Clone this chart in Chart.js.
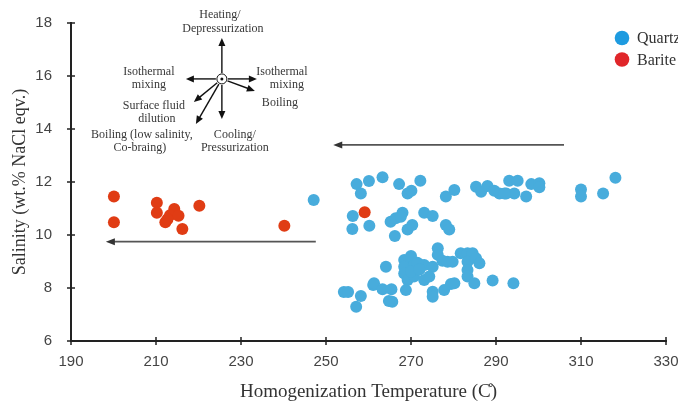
<!DOCTYPE html>
<html>
<head>
<meta charset="utf-8">
<script src="https://cdn.jsdelivr.net/npm/chart.js@4.4.0/dist/chart.umd.min.js"></script>
<style>
  html, body { margin: 0; padding: 0; background: #ffffff; }
  #wrap { width: 678px; height: 405px; position: relative; }
</style>
</head>
<body>
<div id="wrap"><canvas id="c" width="678" height="405"></canvas></div>
<script>
// ---- Data ----
const quartzT = [247.1,257.2,260.1,258.2,256.3,256.2,260.2,254.2,255.2,258.2,257.1,261.1,263.3,267.2,272.2,269.2,270.1,
  278.2,280.2,285.3,286.5,288.0,289.6,290.8,292.4,294.3,293.1,295.1,292.0,297.1,298.3,300.2,300.2,310.0,310.0,315.2,318.1,
  265.2,266.4,268.0,267.6,266.2,269.2,270.3,273.1,275.1,278.2,279.0,
  264.1,261.3,263.3,265.4,265.6,264.8,268.4,270.0,268.4,268.4,269.2,268.8,270.7,270.7,272.3,273.1,275.1,273.1,274.3,275.1,275.1,
  276.3,276.3,277.4,278.6,279.8,277.8,279.4,280.2,281.7,283.3,284.5,283.3,283.3,283.3,285.3,286.1,284.9,289.2,294.1,270.0,271.5,272.0];
const quartzS = [11.32,11.92,12.04,11.57,10.72,10.23,10.35,7.85,7.85,7.70,7.29,8.11,12.18,11.92,12.05,11.57,11.67,
  11.45,11.70,11.82,11.63,11.85,11.67,11.57,11.57,11.57,12.05,12.05,11.57,11.45,11.92,11.95,11.80,11.72,11.45,11.57,12.16,
  10.50,10.63,10.84,10.69,9.96,10.21,10.38,10.84,10.72,10.38,10.21,
  8.80,8.18,7.95,7.95,7.48,7.51,9.06,9.21,8.80,8.55,8.30,7.92,8.87,8.43,8.87,8.87,8.80,8.30,8.43,7.86,7.67,
  9.50,9.25,9.03,8.99,8.99,7.92,8.15,8.18,9.31,9.31,9.31,8.99,8.68,8.43,9.12,8.93,8.18,8.28,8.18,8.62,8.95,8.70];
const bariteT = [200.1,200.1,210.2,210.2,214.3,213.3,215.3,212.2,212.7,216.2,220.2,240.2,259.1];
const bariteS = [11.45,10.48,11.22,10.84,10.98,10.75,10.73,10.48,10.59,10.23,11.10,10.35,10.86];

const seriesNames = ["Quartz", "Barite"];
const xTicks = [190,210,230,250,270,290,310,330];
const yTicks = [6,8,10,12,14,16,18];
const xTitle = "Homogenization Temperature (C\u030A)";
const yTitle = "Salinity (wt.% NaCl eqv.)";

// Trend arrows (data units): [fromT, toT, S]
const trendArrows = [[247.6, 198.2, 9.75], [306.0, 251.7, 13.4]];
// Inset diagram anchor (data units)
const diagramCenter = [225.5, 15.89];

const QUARTZ = '#48ACDC', BARITE = '#E03C14';
const LEG_COLORS = ['#1E9BE0', '#E0262A'];

function pts(xs, ys) { return xs.map((x, i) => ({ x: x, y: ys[i] })); }

function arrowHead(ctx, x1, y1, x2, y2, len, wid) {
  const a = Math.atan2(y2 - y1, x2 - x1);
  ctx.beginPath();
  ctx.moveTo(x2, y2);
  ctx.lineTo(x2 - len * Math.cos(a) + wid * Math.sin(a), y2 - len * Math.sin(a) - wid * Math.cos(a));
  ctx.lineTo(x2 - len * Math.cos(a) - wid * Math.sin(a), y2 - len * Math.sin(a) + wid * Math.cos(a));
  ctx.closePath();
  ctx.fill();
}
function arrow(ctx, x1, y1, x2, y2, lw, len, wid) {
  const a = Math.atan2(y2 - y1, x2 - x1);
  ctx.lineWidth = lw;
  ctx.beginPath();
  ctx.moveTo(x1, y1);
  ctx.lineTo(x2 - (len * 0.8) * Math.cos(a), y2 - (len * 0.8) * Math.sin(a));
  ctx.stroke();
  arrowHead(ctx, x1, y1, x2, y2, len, wid);
}

const decor = {
  id: 'decor',
  afterDraw(chart) {
    const ctx = chart.ctx;
    const xs = chart.scales.x, ys = chart.scales.y;
    const L = chart.chartArea.left, B = chart.chartArea.bottom;
    ctx.save();
    // tick marks crossing the axes
    ctx.strokeStyle = '#222'; ctx.lineWidth = 1.5;
    xTicks.forEach(v => { const p = xs.getPixelForValue(v); ctx.beginPath(); ctx.moveTo(p, B - 4); ctx.lineTo(p, B + 4); ctx.stroke(); });
    yTicks.forEach(v => { const p = ys.getPixelForValue(v); ctx.beginPath(); ctx.moveTo(L - 4, p); ctx.lineTo(L + 4, p); ctx.stroke(); });

    // trend arrows
    ctx.strokeStyle = '#555'; ctx.fillStyle = '#333';
    trendArrows.forEach(a => {
      const y = ys.getPixelForValue(a[2]);
      arrow(ctx, xs.getPixelForValue(a[0]), y, xs.getPixelForValue(a[1]), y, 1.6, 9, 3.5);
    });

    // inset diagram
    const cx = xs.getPixelForValue(diagramCenter[0]);
    const cy = ys.getPixelForValue(diagramCenter[1]);
    ctx.strokeStyle = '#111'; ctx.fillStyle = '#111';
    const arrows = [[0,-41],[-36,0],[35,0],[33,12],[0,40],[-28,23],[-26,45]];
    arrows.forEach(d => {
      const ang = Math.atan2(d[1], d[0]);
      arrow(ctx, cx + 6 * Math.cos(ang), cy + 6 * Math.sin(ang), cx + d[0], cy + d[1], 1.4, 8, 3.5);
    });
    ctx.lineWidth = 1;
    ctx.beginPath(); ctx.arc(cx, cy, 5, 0, Math.PI * 2); ctx.fillStyle = '#fff'; ctx.fill(); ctx.stroke();
    ctx.fillStyle = '#111';
    ctx.beginPath(); ctx.arc(cx, cy, 1.5, 0, Math.PI * 2); ctx.fill();

    ctx.font = '12px "Liberation Serif", "Times New Roman", serif';
    ctx.fillStyle = '#383838'; ctx.textAlign = 'center'; ctx.textBaseline = 'middle';
    const labels = [
      ['Heating/', -2, -64], ['Depressurization', 1, -50],
      ['Isothermal', -73, -7], ['mixing', -73, 6],
      ['Isothermal', 60, -7], ['mixing', 65, 6],
      ['Boiling', 58, 24],
      ['Surface fluid', -68, 27], ['dilution', -65, 40],
      ['Boiling (low salinity,', -80, 56], ['Co-braing)', -82, 69],
      ['Cooling/', 13, 56], ['Pressurization', 13, 69]
    ];
    labels.forEach(l => ctx.fillText(l[0], cx + l[1], cy + l[2]));

    // legend
    const legY = [38, 59.5];
    ctx.font = '16px "Liberation Serif", "Times New Roman", serif';
    ctx.textAlign = 'left'; ctx.textBaseline = 'alphabetic';
    legY.forEach((y, i) => {
      ctx.fillStyle = LEG_COLORS[i];
      ctx.beginPath(); ctx.arc(622, y, 7.3, 0, Math.PI * 2); ctx.fill();
      ctx.fillStyle = '#333';
      ctx.fillText(seriesNames[i], 637, y + 5);
    });
    ctx.restore();
  }
};

const serif = '"Liberation Serif", "Times New Roman", serif';
const sans = '"Liberation Sans", Arial, sans-serif';

new Chart(document.getElementById('c'), {
  type: 'scatter',
  data: {
    datasets: [
      { label: seriesNames[0], data: pts(quartzT, quartzS), backgroundColor: QUARTZ, borderWidth: 0, pointRadius: 6, pointHoverRadius: 6 },
      { label: seriesNames[1], data: pts(bariteT, bariteS), backgroundColor: BARITE, borderWidth: 0, pointRadius: 6, pointHoverRadius: 6 }
    ]
  },
  options: {
    responsive: false,
    animation: false,
    events: [],
    layout: { padding: { top: 23, right: 12, left: 0, bottom: 0 } },
    plugins: { legend: { display: false }, tooltip: { enabled: false } },
    scales: {
      x: {
        type: 'linear', min: xTicks[0], max: xTicks[xTicks.length - 1],
        afterFit(s) { s.height = 64; s.paddingLeft = 0; s.paddingRight = 0; },
        afterBuildTicks(s) { s.ticks = xTicks.map(v => ({ value: v })); },
        grid: { display: false, drawTicks: false },
        border: { display: true, color: '#222', width: 2 },
        ticks: { color: '#444', font: { family: sans, size: 15 }, padding: 12, maxRotation: 0 },
        title: { display: true, text: xTitle, color: '#333', font: { family: serif, size: 19 }, padding: { top: 0, bottom: 2 } }
      },
      y: {
        type: 'linear', min: yTicks[0], max: yTicks[yTicks.length - 1],
        afterFit(s) { s.width = 71; s.paddingTop = 0; s.paddingBottom = 0; },
        afterBuildTicks(s) { s.ticks = yTicks.map(v => ({ value: v })); },
        grid: { display: false, drawTicks: false },
        border: { display: true, color: '#222', width: 2 },
        ticks: { color: '#444', font: { family: sans, size: 15 }, padding: 19 },
        title: { display: true, text: yTitle, color: '#333', font: { family: serif, size: 18 }, padding: { top: 9, bottom: 4 } }
      }
    }
  },
  plugins: [decor]
});
</script>
</body>
</html>
